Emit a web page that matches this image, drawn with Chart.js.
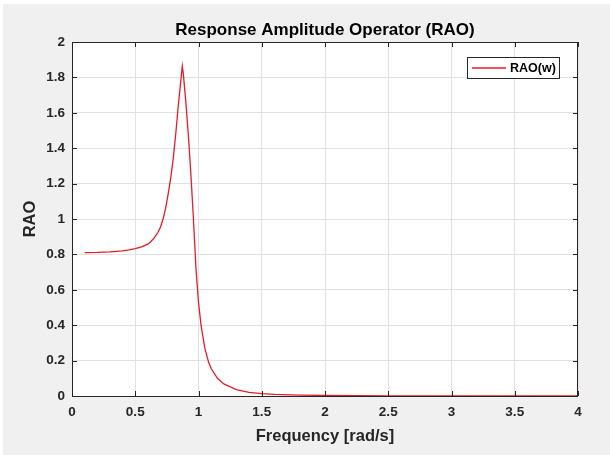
<!DOCTYPE html>
<html>
<head>
<meta charset="utf-8">
<title>RAO</title>
<script src="https://cdn.jsdelivr.net/npm/chart.js"></script>
<style>
  html, body { margin: 0; padding: 0; background: #fff; }
  canvas { display: block; }
</style>
</head>
<body>
<canvas id="raoChart" width="610" height="455"></canvas>
<script>
// values
const freq = [0.1, 0.2, 0.3, 0.4, 0.45, 0.5, 0.55, 0.6, 0.62, 0.65, 0.68, 0.7, 0.72, 0.74, 0.76, 0.78,
  0.8, 0.82, 0.84, 0.86, 0.872, 0.88, 0.9, 0.92, 0.94, 0.96, 0.98, 1.0, 1.02, 1.05, 1.08, 1.1, 1.15,
  1.2, 1.3, 1.4, 1.5, 1.6, 1.8, 2.0, 2.5, 3.0, 3.5, 4.0];
const rao = [0.810, 0.811, 0.814, 0.820, 0.825, 0.832, 0.842, 0.858, 0.870, 0.893, 0.925, 0.955, 1.00, 1.06,
  1.14, 1.23, 1.34, 1.48, 1.64, 1.78, 1.864, 1.82, 1.66, 1.47, 1.25, 1.00, 0.72, 0.53, 0.40, 0.27, 0.19, 0.155,
  0.10, 0.068, 0.036, 0.021, 0.013, 0.009, 0.005, 0.003, 0.0012, 0.0006, 0.0003, 0.0002];
const xTicks = [0, 0.5, 1, 1.5, 2, 2.5, 3, 3.5, 4];
const yTicks = [0, 0.2, 0.4, 0.6, 0.8, 1, 1.2, 1.4, 1.6, 1.8, 2];

const titleText = 'Response Amplitude Operator (RAO)';
const xLabel = 'Frequency [rad/s]';
const yLabel = 'RAO';
const seriesName = 'RAO(w)';

const FONT = '"Liberation Sans", Arial, Helvetica, sans-serif';
const axisColor = '#262626';
const lineColor = '#e41e26';

const fmt = v => String(+Number(v).toFixed(2));

// gray figure background, white axes, box with inward ticks, legend and title
const matlabFrame = {
  id: 'matlabFrame',
  beforeDraw(chart) {
    const { ctx, chartArea: a } = chart;
    ctx.save();
    ctx.fillStyle = '#fff';
    ctx.fillRect(0, 0, chart.width, chart.height);
    ctx.fillStyle = '#f0f0f0';
    ctx.fillRect(3, 4, chart.width - 3, chart.height - 4);
    ctx.fillStyle = '#fff';
    ctx.fillRect(a.left, a.top, a.right - a.left, a.bottom - a.top);
    ctx.restore();
  },
  afterDatasetsDraw(chart) {
    const { ctx, chartArea: a, scales } = chart;
    ctx.save();
    ctx.strokeStyle = axisColor;
    ctx.lineWidth = 1;
    ctx.beginPath();
    xTicks.forEach(v => {
      const px = Math.round(scales.x.getPixelForValue(v)) + 0.5;
      ctx.moveTo(px, a.bottom); ctx.lineTo(px, a.bottom - 5);
      ctx.moveTo(px, a.top); ctx.lineTo(px, a.top + 5);
    });
    yTicks.forEach(v => {
      const py = Math.round(scales.y.getPixelForValue(v)) + 0.5;
      ctx.moveTo(a.left, py); ctx.lineTo(a.left + 5, py);
      ctx.moveTo(a.right, py); ctx.lineTo(a.right - 5, py);
    });
    ctx.stroke();
    ctx.strokeRect(a.left + 0.5, a.top + 0.5, a.right - a.left - 1, a.bottom - a.top);

    // legend
    const lx = 467.5, ly = 57.5, lw = 92, lh = 21;
    ctx.fillStyle = '#fff';
    ctx.fillRect(lx, ly, lw, lh);
    ctx.strokeStyle = axisColor;
    ctx.strokeRect(lx, ly, lw, lh);
    ctx.strokeStyle = lineColor;
    ctx.lineWidth = 1.3;
    ctx.beginPath();
    ctx.moveTo(472, ly + lh / 2);
    ctx.lineTo(506, ly + lh / 2);
    ctx.stroke();
    ctx.fillStyle = '#000';
    ctx.font = 'bold 12.5px ' + FONT;
    ctx.textBaseline = 'middle';
    ctx.textAlign = 'left';
    ctx.fillText(seriesName, 510, ly + lh / 2 + 0.5);

    // title
    ctx.font = 'bold 17px ' + FONT;
    ctx.textAlign = 'center';
    ctx.fillStyle = '#000';
    ctx.fillText(titleText, (a.left + a.right) / 2, 30);
    ctx.restore();
  }
};

new Chart(document.getElementById('raoChart'), {
  type: 'line',
  data: {
    datasets: [{
      label: seriesName,
      data: freq.map((f, i) => ({ x: f, y: rao[i] })),
      borderColor: lineColor,
      borderWidth: 1.3,
      pointRadius: 0,
      tension: 0,
      fill: false
    }]
  },
  options: {
    responsive: false,
    animation: false,
    events: [],
    layout: { padding: { left: 0, top: 42, right: 32, bottom: 0 } },
    plugins: {
      legend: { display: false },
      tooltip: { enabled: false }
    },
    scales: {
      x: {
        type: 'linear',
        min: 0,
        max: 4,
        afterBuildTicks: s => { s.ticks = xTicks.map(v => ({ value: v })); },
        afterFit: s => { s.height = 59; },
        grid: { color: '#e2e2e2', drawTicks: false },
        border: { display: false },
        ticks: {
          padding: 8,
          color: axisColor,
          callback: fmt,
          font: { family: FONT, size: 13.5, weight: 'bold' },
          maxRotation: 0
        },
        title: {
          display: true,
          text: xLabel,
          color: axisColor,
          padding: { top: 0, bottom: 9 },
          font: { family: FONT, size: 16.5, weight: 'bold' }
        }
      },
      y: {
        min: 0,
        max: 2,
        afterBuildTicks: s => { s.ticks = yTicks.map(v => ({ value: v })); },
        afterFit: s => { s.width = 72; },
        grid: { color: '#e2e2e2', drawTicks: false },
        border: { display: false },
        ticks: {
          padding: 7,
          color: axisColor,
          callback: fmt,
          font: { family: FONT, size: 13.5, weight: 'bold' }
        },
        title: {
          display: true,
          text: yLabel,
          color: axisColor,
          padding: { top: 21, bottom: 0 },
          font: { family: FONT, size: 16.5, weight: 'bold' }
        }
      }
    }
  },
  plugins: [matlabFrame]
});
</script>
</body>
</html>
